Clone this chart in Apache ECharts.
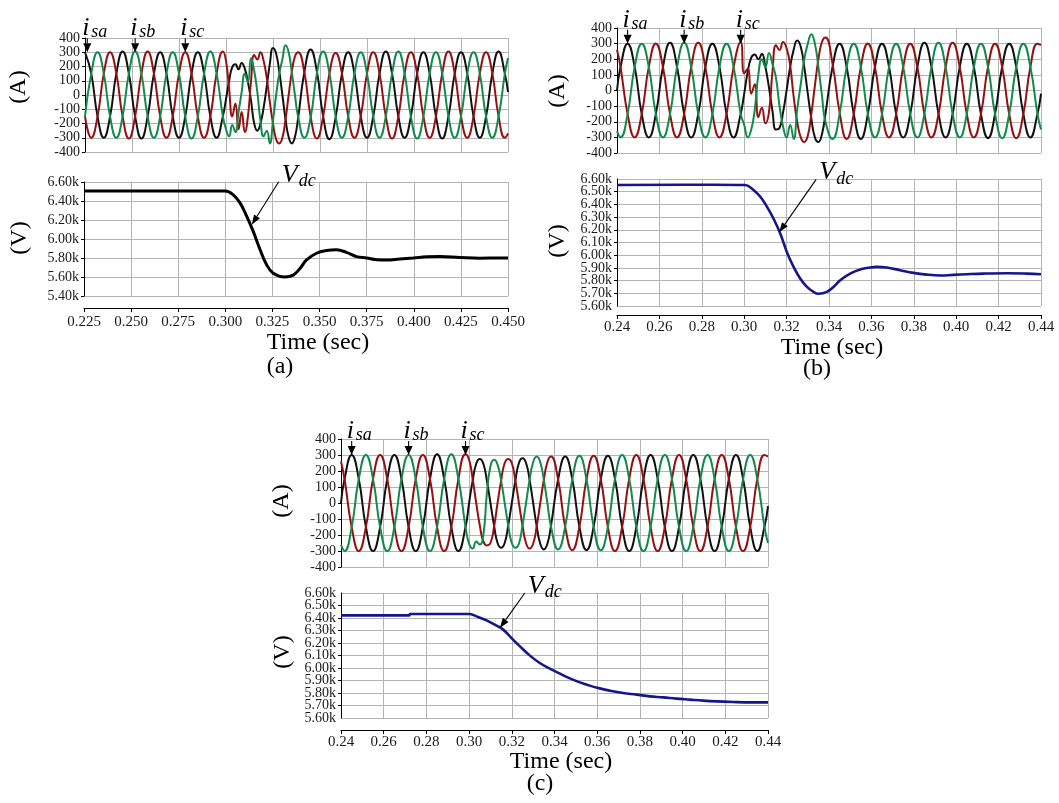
<!DOCTYPE html>
<html>
<head>
<meta charset="utf-8">
<script src="https://cdn.jsdelivr.net/npm/echarts@6/dist/echarts.min.js"></script>
<style>
  html, body { margin: 0; padding: 0; background: #fff; }
  #chart { width: 1059px; height: 803px; }
</style>
</head>
<body>
<div id="chart"></div>
<script>
// ---------- Case (a): source currents (A) ----------
const tA = [0.225,0.22833,0.23167,0.235,0.23833,0.24167,
  0.245,0.24833,0.25167,0.255,0.25833,0.26167,
  0.265,0.26833,0.27167,0.275,0.27833,0.28167,
  0.285,0.28833,0.29167,0.295,0.29833,
  0.3,0.30167,0.30333,0.305,0.30667,0.30833,0.31,0.31167,0.31333,0.315,0.31667,0.31833,
  0.32,0.32167,0.32333,0.325,0.32667,0.32833,0.33,0.33167,0.33333,0.335,0.33667,0.33833,
  0.34167,0.345,0.34833,0.35167,0.355,0.35833,
  0.36167,0.365,0.36833,0.37167,0.375,0.37833,
  0.38167,0.385,0.38833,0.39167,0.395,0.39833,
  0.40167,0.405,0.40833,0.41167,0.415,0.41833,
  0.42167,0.425,0.42833,0.43167,0.435,0.43833,
  0.44167,0.445,0.44833,0.45];
const isaA = [300,150,-150,-300,-150,150, 305,150,-150,-305,-150,150, 300,150,-150,-300,-150,150, 300,150,-150,-300,-150,
  -30,100,195,215,180,225,185,90,-40,-200,-250,-200, -90,60,220,330,290,165,0,-170,-295,-340,-295,-165,
  160,320,165,-150,-310,-155, 150,300,150,-150,-300,-150, 150,305,150,-150,-300,-150,
  150,300,150,-150,-305,-150, 150,300,150,-150,-300,-150, 150,305,150,20];
const isbA = [-150,150,300,150,-150,-300, -150,150,305,150,-150,-300, -150,150,300,150,-150,-305, -150,150,305,150,-150,
  -240,-290,-210,-260,-120,20,150,90,260,170,20,-180, -290,-250,-340,-180,0,150,250,350,300,160,0,-150,
  -300,-160,150,305,155,-150, -300,-150,150,300,150,-150, -300,-150,150,305,150,-150,
  -305,-150,150,300,150,-150, -300,-150,150,300,150,-150, -300,-150,150,260];
const iscA = [-150,-300,-150,150,300,150, -150,-305,-150,150,305,150, -150,-300,-150,150,300,150, -150,-300,-150,150,305,
  240,40,-150,-60,-240,-120,-260,-150,100,280,250,300, 240,120,-50,-200,-310,-340,-300,-170,0,160,270,300,
  160,-150,-305,-150,150,295, 150,-150,-300,-150,150,300, 150,-150,-305,-150,150,300,
  150,-150,-300,-150,150,305, 150,-150,-300,-150,150,300, 150,-150,-300,-270];

// ---------- Cases (b) and (c): shared time samples ----------
const tBC = [0.24,0.24167,
  0.245,0.24833,0.25167,0.255,0.25833,0.26167,
  0.265,0.26833,0.27167,0.275,0.27833,0.28167,
  0.285,0.28833,0.29167,0.295,0.29833,
  0.3,0.30167,0.30333,0.305,0.30667,0.30833,0.31,0.31167,0.31333,0.315,0.31667,0.31833,
  0.32,0.32167,0.32333,0.325,0.32667,0.32833,0.33,0.33167,0.33333,0.335,0.33667,0.33833,
  0.34167,0.345,0.34833,0.35167,0.355,0.35833,
  0.36167,0.365,0.36833,0.37167,0.375,0.37833,
  0.38167,0.385,0.38833,0.39167,0.395,0.39833,
  0.40167,0.405,0.40833,0.41167,0.415,0.41833,
  0.42167,0.425,0.42833,0.43167,0.435,0.43833,
  0.44];

// (b) source currents (A)
const isaB = [0,150, 300,150,-150,-300,-150,150, 305,150,-150,-300,-150,150, 300,150,-150,-300,-150,
  -20,120,210,230,200,235,150,20,-130,-250,-240,-140, 0,150,260,320,280,150,-20,-180,-300,-330,-280,-150,
  150,300,150,-150,-310,-150, 150,300,150,-150,-300,-150, 150,305,150,-150,-300,-150,
  150,300,150,-150,-305,-150, 150,300,150,-150,-300,-150, -20];
const isbB = [-260,-300, -150,150,300,150,-150,-300, -150,150,305,150,-150,-300, -150,150,300,150,-150,
  -220,-300,-250,-120,100,200,150,240,170,80,-100,-230, -300,-220,-310,-120,40,200,300,360,300,150,-30,-200,
  -310,-150,150,300,150,-150, -300,-150,150,300,150,-150, -300,-150,150,305,150,-150,
  -300,-150,150,300,150,-150, -305,-150,150,300,150,-150, -250];
const iscB = [260,150, -150,-300,-150,150,300,150, -150,-300,-150,150,305,150, -150,-300,-150,150,310,
  110,140,-20,40,-170,-110,-210,-140,120,290,260,310, 270,160,-40,-200,-300,-330,-290,-150,30,200,310,340,
  170,-140,-310,-150,150,300, 150,-150,-300,-150,150,300, 150,-150,-300,-150,150,305,
  150,-150,-300,-150,150,300, 150,-150,-305,-150,150,300, 290];

// (c) source currents (A)
const isaC = [0,150, 300,150,-150,-300,-150,150, 300,150,-150,-300,-150,150, 305,150,-150,-300,-150,
  0,140,245,275,245,140,0,-140,-250,-280,-250,-140, 0,140,250,280,250,145,0,-145,-255,-290,-255,-145,
  145,290,148,-148,-295,-148, 148,295,150,-150,-300,-150, 150,300,150,-150,-300,-150,
  150,300,150,-150,-300,-150, 150,300,150,-150,-300,-150, -20];
const isbC = [-260,-300, -150,150,300,150,-150,-300, -150,150,300,150,-150,-300, -150,150,305,150,-150,
  -255,-285,-240,-260,-200,60,230,270,240,140,0,-140, -250,-280,-255,-140,0,145,255,290,255,145,0,-145,
  -290,-148,148,295,148,-148, -295,-150,150,300,150,-150, -300,-150,150,300,150,-150,
  -300,-150,150,300,150,-150, -300,-150,150,300,150,-150, -250];
const iscC = [260,150, -150,-300,-150,150,300,150, -150,-300,-150,150,300,150, -150,-300,-150,150,305,
  270,150,0,-140,-240,-265,-250,-150,0,140,250,275, 250,140,0,-140,-250,-285,-255,-145,0,145,255,290,
  148,-148,-295,-148,148,295, 150,-150,-300,-150,150,300, 150,-150,-300,-150,150,300,
  150,-150,-300,-150,150,300, 150,-150,-300,-150,150,300, 290];

// ---------- DC-link voltage (V) ----------
const vdcTimeA = [0.225,0.3,0.3042,0.3078,0.3113,0.3148,0.3184,0.3219,0.3254,0.3316,0.336,0.3396,0.3431,
  0.3484,0.3537,0.359,0.3643,0.3696,0.375,0.3803,0.3856,0.3926,0.3997,0.4068,0.4139,0.4245,0.435,0.4457,0.45];
const vdcA = [6505,6505,6465,6380,6240,6080,5890,5730,5640,5600,5620,5690,5780,
  5850,5878,5886,5860,5815,5800,5782,5780,5790,5800,5812,5815,5805,5798,5800,5800];

const vdcTimeB = [0.24,0.2856,0.3005,0.3044,0.3076,0.3107,0.3138,0.317,0.3201,0.3233,0.3264,0.3296,0.3327,
  0.3351,0.339,0.3421,0.3453,0.35,0.3547,0.3594,0.3625,0.3673,0.3735,0.3798,0.3861,0.3924,0.3987,0.405,
  0.4128,0.4238,0.4332,0.44];
const vdcB = [6553,6555,6553,6513,6460,6382,6289,6171,6026,5908,5816,5750,5711,
  5697,5711,5750,5803,5855,5887,5903,5908,5903,5882,5861,5847,5840,5845,5850,
  5855,5858,5855,5850];

const vdcTimeC = [0.24,0.272,0.2723,0.3,0.3035,0.3082,0.3129,0.316,0.3191,0.3238,0.3285,0.3331,0.3378,
  0.3425,0.3472,0.3519,0.3565,0.3612,0.3659,0.3721,0.3784,0.3846,0.3909,0.3971,0.4033,0.4096,0.4158,
  0.4236,0.4314,0.44];
const vdcC = [6421,6421,6432,6432,6413,6381,6339,6307,6253,6173,6099,6040,5995,
  5955,5917,5885,5859,5837,5819,5800,5787,5773,5765,5755,5747,5739,5733,
  5728,5725,5725];

// Axis ranges [min, max, step]
const timeAxisA = [0.225, 0.45, 0.025];
const timeAxisBC = [0.24, 0.44, 0.02];
const currentAxis = [-400, 400, 100];
const vdcAxisA = [5400, 6600, 200];
const vdcAxisBC = [5600, 6600, 100];

// ---------- styling ----------
const SERIF = '"Liberation Serif","Times New Roman",serif';
const COL_A = '#111111', COL_B = '#118a4c', COL_C = '#961010', COL_VDC = '#16168c';
const GRID_COL = '#b4b4b4';

const gridBase = { outerBoundsMode: 'none', containLabel: false };
const grids = [
  { ...gridBase, left: 85,  top: 38,  width: 423, height: 114 },  // (a) currents
  { ...gridBase, left: 84,  top: 182, width: 424, height: 114 },  // (a) Vdc
  { ...gridBase, left: 617, top: 28,  width: 424, height: 125 },  // (b) currents
  { ...gridBase, left: 617, top: 179, width: 424, height: 127 },  // (b) Vdc
  { ...gridBase, left: 341, top: 439, width: 427, height: 128 },  // (c) currents
  { ...gridBase, left: 341, top: 593, width: 427, height: 125 }   // (c) Vdc
];

const labelStyle = { fontFamily: SERIF, fontSize: 14, color: '#1a1a1a', hideOverlap: false };
const kFmt = v => (v / 1000).toFixed(2) + 'k';

function xAxisFor(g, range, withLabels, offset, margin, digits) {
  return {
    type: 'value', gridIndex: g, min: range[0], max: range[1], interval: range[2],
    offset: withLabels ? offset : 0,
    axisLine: { show: withLabels, onZero: false, lineStyle: { color: '#000', width: 1 } },
    axisTick: { show: withLabels, inside: false, length: 4, lineStyle: { color: '#000' } },
    axisLabel: { show: withLabels, margin: margin, ...labelStyle, fontSize: 15,
      showMinLabel: true, showMaxLabel: true, formatter: v => v.toFixed(digits) },
    splitLine: { show: true, lineStyle: { color: GRID_COL, width: 1 } }
  };
}
// dense: inner tick labels only (the two end labels come from a companion axis)
function yAxisFor(g, range, fmt, dense) {
  return {
    type: 'value', gridIndex: g, position: 'left', min: range[0], max: range[1], interval: range[2],
    axisLine: { show: true, onZero: false, lineStyle: { color: '#000', width: 1 } },
    axisTick: { show: true, inside: false, length: 3, lineStyle: { color: '#000' } },
    axisLabel: { margin: 5, ...labelStyle, showMinLabel: !dense, showMaxLabel: !dense, formatter: fmt },
    splitLine: { show: true, lineStyle: { color: GRID_COL, width: 1 } }
  };
}
function yEndLabels(g, range, fmt) {
  return {
    type: 'value', gridIndex: g, position: 'left', offset: 0, min: range[0], max: range[1], interval: range[2],
    axisLine: { show: false, onZero: false }, axisTick: { show: false }, splitLine: { show: false },
    axisLabel: { margin: 5, ...labelStyle, showMinLabel: true, showMaxLabel: true,
      formatter: v => (v === range[0] || v === range[1]) ? fmt(v) : '' }
  };
}

const xAxes = [
  xAxisFor(0, timeAxisA, false),
  xAxisFor(1, timeAxisA, true, 12, 7, 3),
  xAxisFor(2, timeAxisBC, false),
  xAxisFor(3, timeAxisBC, true, 9, 5, 2),
  xAxisFor(4, timeAxisBC, false),
  xAxisFor(5, timeAxisBC, true, 12, 5, 2)
];
const intFmt = v => String(Math.round(v));
const yAxes = [
  yAxisFor(0, currentAxis, intFmt, false),
  yAxisFor(1, vdcAxisA, kFmt, false),
  yAxisFor(2, currentAxis, intFmt, false),
  yAxisFor(3, vdcAxisBC, kFmt, true),
  yAxisFor(4, currentAxis, intFmt, false),
  yAxisFor(5, vdcAxisBC, kFmt, true),
  yEndLabels(3, vdcAxisBC, kFmt),
  yEndLabels(5, vdcAxisBC, kFmt)
];

const pairs = (t, v) => t.map((x, i) => [x, v[i]]);
function wave(g, t, v, color) {
  return { type: 'line', xAxisIndex: g, yAxisIndex: g, data: pairs(t, v),
    symbol: 'none', smooth: 0.5, silent: true,
    lineStyle: { color, width: 2 }, itemStyle: { color } };
}
function vdcLine(g, t, v, color, w) {
  return { type: 'line', xAxisIndex: g, yAxisIndex: g, data: pairs(t, v),
    symbol: 'none', smooth: 0.4, silent: true,
    lineStyle: { color, width: w }, itemStyle: { color } };
}

const series = [
  wave(0, tA, isaA, COL_A), wave(0, tA, iscA, COL_C), wave(0, tA, isbA, COL_B),
  vdcLine(1, vdcTimeA, vdcA, '#000', 3),
  wave(2, tBC, isaB, COL_A), wave(2, tBC, iscB, COL_C), wave(2, tBC, isbB, COL_B),
  vdcLine(3, vdcTimeB, vdcB, COL_VDC, 2.6),
  wave(4, tBC, isaC, COL_A), wave(4, tBC, iscC, COL_C), wave(4, tBC, isbC, COL_B),
  vdcLine(5, vdcTimeC, vdcC, COL_VDC, 2.6)
];

const chart = echarts.init(document.getElementById('chart'), null, { renderer: 'canvas' });
chart.setOption({
  animation: false,
  backgroundColor: '#ffffff',
  grid: grids,
  xAxis: xAxes,
  yAxis: yAxes,
  series: series
});

// ---------- annotations (anchored to data coordinates) ----------
const gfx = [];
const toPx = (g, p) => chart.convertToPixel({ xAxisIndex: g, yAxisIndex: g }, p);

function arrow(from, to, headLen, headW) {
  const dx = to[0] - from[0], dy = to[1] - from[1];
  const L = Math.hypot(dx, dy), ux = dx / L, uy = dy / L;
  const bx = to[0] - ux * headLen, by = to[1] - uy * headLen;
  gfx.push({ type: 'line', z: 100, silent: true,
    shape: { x1: from[0], y1: from[1], x2: bx, y2: by },
    style: { stroke: '#000', lineWidth: 1.1 } });
  gfx.push({ type: 'polygon', z: 100, silent: true,
    shape: { points: [[to[0], to[1]],
      [bx - uy * headW / 2, by + ux * headW / 2],
      [bx + uy * headW / 2, by - ux * headW / 2]] },
    style: { fill: '#000' } });
}
function textAt(x, baseline, size, text, italic) {
  gfx.push({ type: 'text', z: 100, silent: true, x: x, y: baseline - 0.305 * size,
    style: { text, fill: '#000', font: (italic ? 'italic ' : '') + size + 'px ' + SERIF,
      align: 'left', verticalAlign: 'middle' } });
}
function centered(x, y, size, text, rotate) {
  gfx.push({ type: 'text', z: 100, silent: true, x, y, rotation: rotate ? Math.PI / 2 : 0,
    style: { text, fill: '#000', font: size + 'px ' + SERIF, align: 'center', verticalAlign: 'middle' } });
}

// phase current tags: [grid, time, value, subscript]
const phaseTags = [
  [0, 0.2262, 300, 'sa'], [0, 0.25167, 300, 'sb'], [0, 0.27833, 300, 'sc'],
  [2, 0.245, 300, 'sa'],  [2, 0.27167, 300, 'sb'], [2, 0.29833, 300, 'sc'],
  [4, 0.245, 300, 'sa'],  [4, 0.27167, 300, 'sb'], [4, 0.29833, 300, 'sc']
];
phaseTags.forEach(([g, t, v, sub]) => {
  const tip = toPx(g, [t, v]);
  arrow([tip[0], tip[1] - 14], tip, 9, 8);
  textAt(tip[0] - 5, tip[1] - 16, 26, 'i', true);
  textAt(tip[0] + 4, tip[1] - 14, 18, sub, true);
});

// Vdc tags: [grid, time, value, dx, dy]
const vdcTags = [
  [1, 0.314, 6150, 27, -43],
  [3, 0.3165, 6180, 37, -53],
  [5, 0.3144, 6320, 25, -35]
];
vdcTags.forEach(([g, t, v, dx, dy]) => {
  const tip = toPx(g, [t, v]);
  const end = [tip[0] + dx, tip[1] + dy];
  arrow(end, tip, 10, 7);
  textAt(end[0] + 3, end[1] + 1, 26, 'V', true);
  textAt(end[0] + 20, end[1] + 5, 18, 'dc', true);
});

// axis titles and panel captions
[
  [19, 87, '(A)', true], [20, 238, '(V)', true], [318, 343, 'Time (sec)'], [280, 367, '(a)'],
  [558, 91, '(A)', true], [558, 241, '(V)', true], [832, 348, 'Time (sec)'], [817, 369, '(b)'],
  [282, 501, '(A)', true], [283, 652, '(V)', true], [561, 762, 'Time (sec)'], [540, 784, '(c)']
].forEach(([x, y, s, r]) => centered(x, y, 24, s, r));

chart.setOption({ graphic: gfx });
</script>
</body>
</html>
